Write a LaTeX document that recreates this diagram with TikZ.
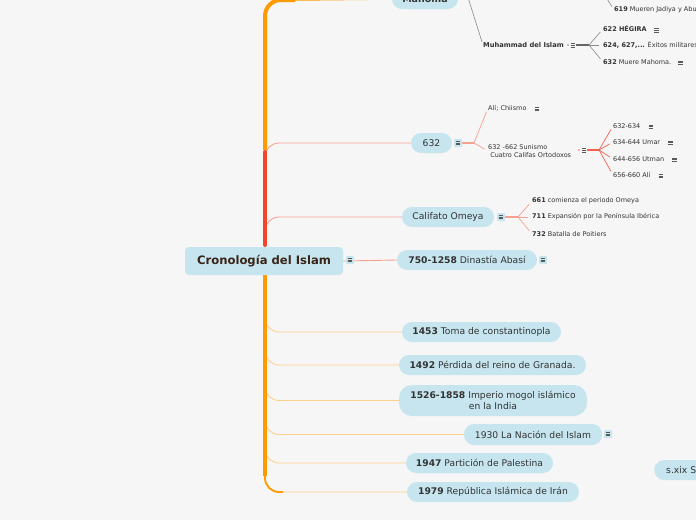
\documentclass[tikz,border=0pt]{standalone}
\usepackage{fontspec}
\setmainfont{DejaVu Sans}
\definecolor{nodebg}{HTML}{C6E5EF}
\definecolor{txt}{HTML}{333333}
\definecolor{roottxt}{HTML}{3A2418}
\definecolor{orangeT}{HTML}{FF9A00}
\definecolor{redT}{HTML}{F2462C}
\definecolor{salmon}{HTML}{F6A08F}
\definecolor{lorange}{HTML}{FFCF8C}
\definecolor{redfan}{HTML}{F0604E}
\definecolor{greyl}{HTML}{8A8A8A}
\definecolor{bg}{HTML}{F6F6F6}
\newcommand\eqv{\tikz[baseline={(0,-0.4)},x=1pt,y=1pt]{\foreach \d in {0,1.8,3.6}\draw[black!65,line width=0.5pt](0,\d)--(4.6,\d);}}
\pgfdeclarelayer{back}
\pgfdeclarelayer{lines}
\pgfsetlayers{back,lines,main}
\begin{document}
\begin{tikzpicture}[x=1pt,y=-1pt,
  pill/.style={fill=nodebg, rounded corners=10pt, minimum height=20pt, inner sep=0pt,
    text=txt, font=\fontsize{9.2}{11.5}\selectfont, align=center},
  rootbox/.style={fill=nodebg, rounded corners=4pt, minimum width=158pt, minimum height=28pt,
    inner sep=0pt, text=roottxt, font=\fontsize{11.6}{13}\selectfont\bfseries},
  icon/.style={fill=nodebg, rounded corners=1pt, minimum size=8pt, inner sep=0pt,
    path picture={\foreach \d in {-1.7,0,1.7}
      \draw[black!65, line width=0.55pt] ([xshift=-2.3pt,yshift=\d pt]path picture bounding box.center) -- ++(4.6pt,0);}},
  sm/.style={font=\fontsize{6.5}{8}\selectfont, text=txt, inner sep=0pt, anchor=west, align=left},
  smb/.style={font=\fontsize{6.7}{8}\selectfont\bfseries, text=txt, inner sep=0pt, anchor=west},
  oline/.style={draw=lorange, line width=0.9pt, rounded corners=14pt},
  sline/.style={draw=salmon, line width=0.9pt, rounded corners=14pt},
  fanS/.style={draw=salmon, line width=0.7pt, shorten >=4pt},
  fanR/.style={draw=redfan, line width=0.7pt, shorten >=4pt},
  fanG/.style={draw=greyl, line width=0.6pt, shorten >=4pt},
  trunkO/.style={draw=orangeT, line width=4pt},
  trunkR/.style={draw=redT, line width=4pt}
]
\useasboundingbox (0,0) rectangle (696,520);
\clip (0,0) rectangle (696,520);
\begin{pgfonlayer}{back}
\fill[bg] (0,0) rectangle (696,520);
\end{pgfonlayer}

% ---------- nodes ----------
\node[rootbox] (root) at (264,261) {Cronología del Islam};
\node[icon] (iroot) at (350,260) {};

\node[pill, minimum width=66pt, font=\fontsize{9.5}{11}\selectfont\bfseries] (mahoma) at (425,-1) {Mahoma};
\node[pill, minimum width=41pt] (n632) at (431.5,143) {632};
\node[icon] (i632) at (458,143) {};
\node[pill, minimum width=92pt] (omeya) at (448,217) {Califato Omeya};
\node[icon] (iomeya) at (501,217) {};
\node[pill, minimum width=140pt] (abasi) at (467,260) {\textbf{750-1258} Dinastía Abasí};
\node[icon] (iabasi) at (543,260) {};
\node[pill, minimum width=159pt] (n1453) at (481.5,332) {\textbf{1453} Toma de constantinopla};
\node[pill, minimum width=187pt] (n1492) at (492.5,365) {\textbf{1492} Pérdida del reino de Granada.};
\node[pill, minimum width=188pt, minimum height=31pt, rounded corners=13pt] (n1526) at (493,400.5) {\textbf{1526-1858} Imperio mogol islámico\\en la India};
\node[pill, minimum width=138pt, minimum height=21pt] (n1930) at (533,434.5) {1930 La Nación del Islam};
\node[icon] (i1930) at (608,434) {};
\node[pill, minimum width=147pt] (n1947) at (479.5,463) {\textbf{1947} Partición de Palestina};
\node[pill, minimum width=172pt] (n1979) at (493,492) {\textbf{1979} República Islámica de Irán};
\node[pill, minimum width=80pt, anchor=west, text width=68pt, align=left] (sxix) at (654,470) {\hspace*{6pt}s.xix S};

% Mahoma subtree
\node[smb] (muh) at (483,45) {Muhammad del Islam};
\fill[greyl] (568,45) circle (0.8pt);
\node[sm, anchor=center] (muhicon) at (573,45) {\eqv};
\coordinate (mfan) at (589,45);
\node[sm] (h622) at (603,29) {\textbf{622 HÉGIRA}\hspace{7pt}\eqv};
\node[sm] (h624) at (603,45) {\textbf{624, 627,...} Éxitos militares};
\node[sm] (h632) at (603,62) {\textbf{632} Muere Mahoma.\hspace{7pt}\eqv};
\node[sm] (j619) at (614,10) {\textbf{619} Mueren Jadiya y Abu};
\coordinate (mtop) at (465,-12);
\coordinate (jtop) at (604,-6);

% 632 subtree
\coordinate (f632) at (474,143);
\node[sm] (ali) at (488,108) {Alí; Chiismo\hspace{8pt}\eqv};
\node[sm] (sun) at (488,151) {632 -662 Sunismo\\\ Cuatro Califas Ortodoxos};
\fill[redfan] (579,150) circle (0.8pt);
\node[sm, anchor=center] (sunicon) at (584,150) {\eqv};
\coordinate (fsun) at (599,150);
\node[sm] (c1) at (613,126) {632-634\hspace{8pt}\eqv};
\node[sm] (c2) at (613,142) {634-644 Umar\hspace{8pt}\eqv};
\node[sm] (c3) at (613,159) {644-656 Utman\hspace{8pt}\eqv};
\node[sm] (c4) at (613,175) {656-660 Alí\hspace{8pt}\eqv};

% Califato subtree
\coordinate (fom) at (518,217);
\node[sm] (o661) at (532,201) {\textbf{661} comienza el periodo Omeya};
\node[sm] (o711) at (532,217) {\textbf{711} Expansión por la Península Ibérica};
\node[sm] (o732) at (532,234) {\textbf{732} Batalla de Poitiers};

% ---------- trunk coordinates ----------
\coordinate (tup) at (265,150);
\coordinate (ttop) at (295,0);
\coordinate (tred) at (265,245);
\coordinate (tredtop) at (265,152);
\coordinate (tmid) at (265,200);
\coordinate (tlow) at (265,275);
\coordinate (tbot) at (265,476);
\coordinate (tbr) at (265,300);
\coordinate (tend) at (283,492);

% ---------- connectors ----------
\begin{pgfonlayer}{lines}
% top orange
\draw[trunkO, rounded corners=16pt] (tup) |- (ttop);
\draw[draw=orangeT, line width=1.5pt] (ttop) -- (mahoma.west);
% red part
\draw[sline] (tmid) |- (n632.west);
\draw[sline] (tred) |- (omeya.west);
\draw[trunkR, line cap=round] (tred) -- (tredtop);
% root to abasi
\draw[sline] (root.east) -- (abasi.west);
% lower orange
\foreach \n in {n1453,n1492,n1526,n1930,n1947,n1979}
  \draw[oline] (tbr) |- (\n.west);
\draw[trunkO] (tlow) -- (tbot);
\draw[draw=orangeT, line width=1.8pt, rounded corners=14pt] (tbot) |- (tend);

% Mahoma subtree
\draw[fanG, shorten >=3pt] (mtop) -- (muh.west);
\draw[fanG] (jtop) -- (j619.west);
\draw[draw=black!60, line width=1.1pt] (muhicon.east) -- (mfan);
\draw[fanG] (mfan) -- (h622.west);
\draw[fanG] (mfan) -- (h624.west);
\draw[fanG] (mfan) -- (h632.west);

% 632 subtree
\draw[draw=salmon, line width=1.1pt] (i632.east) -- (f632);
\draw[fanS] (f632) -- (ali.west);
\draw[fanS] (f632) -- (sun.west);
\draw[draw=redfan, line width=1.1pt] (sunicon.east) -- (fsun);
\draw[fanR] (fsun) -- (c1.west);
\draw[fanR] (fsun) -- (c2.west);
\draw[fanR] (fsun) -- (c3.west);
\draw[fanR] (fsun) -- (c4.west);

% Califato subtree
\draw[draw=salmon, line width=1.1pt] (iomeya.east) -- (fom);
\draw[fanS] (fom) -- (o661.west);
\draw[fanS] (fom) -- (o711.west);
\draw[fanS] (fom) -- (o732.west);
\end{pgfonlayer}

\end{tikzpicture}
\end{document}
